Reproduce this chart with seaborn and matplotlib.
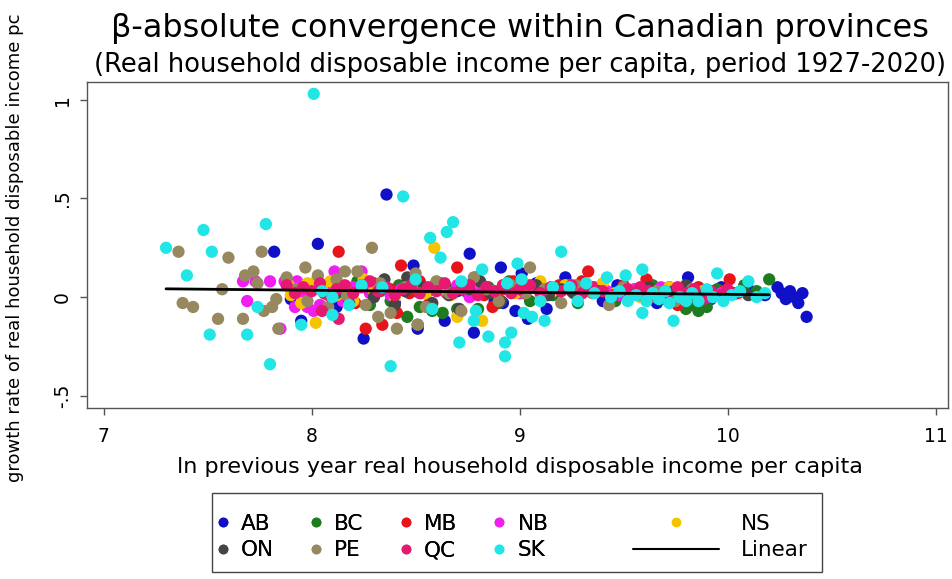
import pandas as pd
import matplotlib
matplotlib.use('Agg')
import matplotlib.pyplot as plt
import seaborn as sns
from matplotlib.lines import Line2D
from matplotlib.patches import Rectangle

# provinces in drawing / legend order
provinces = ['AB', 'BC', 'MB', 'NB', 'NS', 'ON', 'PE', 'QC', 'SK']
colors = ['#1010c8', '#1e7b1e', '#e8141c', '#f01ef0', '#f5c400',
          '#454545', '#978860', '#e6186f', '#22e5e5']

# (ln previous-year income, growth rate)
ab = [(7.82, 0.23), (7.90, -0.01), (7.95, -0.12), (8.03, 0.27), (8.08, 0.02), (8.12, -0.05),
      (8.18, 0.04), (8.25, -0.21), (8.30, 0.03), (8.36, 0.52), (8.40, -0.03), (8.44, 0.05),
      (8.49, 0.16), (8.51, -0.16), (8.55, 0.02), (8.60, 0.06), (8.64, -0.12), (8.70, 0.03),
      (8.76, 0.22), (8.78, -0.18), (8.83, 0.05), (8.88, -0.02), (8.91, 0.15), (8.92, -0.03),
      (8.95, 0.04), (8.98, -0.07), (9.01, 0.12), (9.04, -0.11), (9.08, 0.07), (9.13, -0.06),
      (9.18, 0.03), (9.22, 0.10), (9.28, 0.02), (9.34, 0.05), (9.40, -0.02), (9.47, 0.06),
      (9.53, 0.01), (9.60, 0.04), (9.66, -0.03), (9.72, 0.05), (9.78, 0.02), (9.81, 0.10),
      (9.86, 0.03), (9.92, -0.01), (9.97, 0.05), (10.03, 0.02), (10.10, 0.04), (10.18, 0.01),
      (10.24, 0.05), (10.26, 0.02), (10.28, -0.01), (10.30, 0.03), (10.32, 0.00), (10.34, -0.03),
      (10.36, 0.02), (10.38, -0.10)]
bc = [(8.10, 0.05), (8.16, -0.02), (8.22, 0.08), (8.28, -0.04), (8.33, 0.03), (8.38, -0.02),
      (8.42, 0.06), (8.46, -0.10), (8.50, 0.03), (8.52, -0.05), (8.55, 0.02), (8.58, -0.07),
      (8.63, -0.08), (8.66, 0.04), (8.70, -0.06), (8.74, 0.03), (8.80, -0.06), (8.85, 0.05),
      (8.90, -0.03), (8.95, 0.08), (9.00, 0.02), (9.05, -0.02), (9.10, 0.04), (9.16, 0.01),
      (9.22, 0.06), (9.28, -0.03), (9.34, 0.03), (9.40, 0.05), (9.46, -0.02), (9.52, 0.03),
      (9.58, 0.01), (9.64, 0.06), (9.70, -0.01), (9.76, 0.03), (9.80, -0.06), (9.83, -0.04),
      (9.86, -0.07), (9.90, -0.05), (9.95, 0.04), (10.02, 0.02), (10.08, 0.06), (10.14, 0.03),
      (10.20, 0.09)]
mb = [(8.00, 0.06), (8.06, 0.02), (8.13, 0.23), (8.17, 0.05), (8.21, -0.03), (8.26, -0.16),
      (8.30, 0.07), (8.34, -0.14), (8.38, 0.04), (8.41, -0.08), (8.43, 0.16), (8.47, 0.02),
      (8.52, 0.08), (8.56, -0.04), (8.61, 0.05), (8.65, 0.02), (8.70, 0.15), (8.74, 0.06),
      (8.79, 0.10), (8.83, 0.01), (8.87, -0.05), (8.92, 0.04), (8.97, 0.08), (9.02, 0.02),
      (9.08, 0.05), (9.13, 0.01), (9.19, 0.06), (9.25, 0.03), (9.30, 0.08), (9.33, 0.13),
      (9.38, 0.04), (9.44, 0.02), (9.50, 0.06), (9.56, 0.03), (9.61, 0.09), (9.68, 0.04),
      (9.74, 0.00), (9.76, -0.04), (9.86, 0.05), (9.92, 0.01), (9.98, 0.03), (10.01, 0.09),
      (10.05, 0.02)]
nb = [(7.67, 0.08), (7.69, -0.02), (7.73, 0.08), (7.80, 0.08), (7.85, -0.16), (7.87, 0.08),
      (7.92, -0.05), (7.93, 0.08), (7.96, 0.01), (7.98, -0.05), (8.01, -0.07), (8.04, -0.04),
      (8.08, 0.03), (8.11, 0.13), (8.15, -0.02), (8.20, 0.05), (8.24, 0.13), (8.28, 0.02),
      (8.33, 0.06), (8.38, 0.01), (8.43, 0.04), (8.48, 0.07), (8.53, 0.02), (8.58, 0.05),
      (8.64, 0.03), (8.70, 0.06), (8.76, 0.00), (8.82, 0.05), (8.88, 0.03), (8.94, 0.07),
      (9.00, 0.02), (9.06, 0.05), (9.12, 0.01), (9.18, 0.04), (9.24, 0.06), (9.30, 0.02),
      (9.36, 0.05), (9.42, 0.03), (9.48, 0.01), (9.55, 0.04), (9.62, 0.02), (9.68, 0.05),
      (9.75, 0.01), (9.82, 0.03), (9.90, 0.00), (9.97, 0.02)]
ns = [(7.89, 0.06), (7.90, 0.01), (7.95, -0.03), (7.98, 0.07), (8.02, -0.13), (8.02, 0.08),
      (8.05, 0.04), (8.09, 0.08), (8.12, 0.01), (8.16, 0.05), (8.20, -0.02), (8.25, 0.09),
      (8.30, 0.03), (8.35, 0.06), (8.40, 0.00), (8.45, 0.04), (8.50, 0.07), (8.55, 0.02),
      (8.59, 0.25), (8.63, 0.04), (8.67, 0.01), (8.70, -0.10), (8.75, 0.05), (8.82, -0.12),
      (8.86, 0.03), (8.92, 0.06), (8.98, 0.02), (9.04, 0.05), (9.10, 0.08), (9.16, 0.03),
      (9.22, 0.06), (9.28, 0.02), (9.34, 0.04), (9.40, 0.07), (9.46, 0.02), (9.52, 0.04),
      (9.58, 0.00), (9.65, 0.03), (9.72, 0.05), (9.80, 0.02), (9.88, 0.03), (9.95, 0.01)]
on = [(8.12, 0.02), (8.18, -0.03), (8.24, 0.06), (8.30, 0.00), (8.35, 0.09), (8.40, -0.04),
      (8.45, 0.03), (8.46, 0.10), (8.51, -0.14), (8.54, 0.05), (8.58, -0.03), (8.62, 0.07),
      (8.66, 0.01), (8.71, -0.06), (8.76, 0.04), (8.81, 0.08), (8.86, 0.02), (8.91, -0.02),
      (8.96, 0.05), (9.02, 0.03), (9.08, 0.06), (9.14, 0.01), (9.20, 0.04), (9.26, 0.02),
      (9.32, 0.05), (9.38, 0.03), (9.44, 0.00), (9.50, 0.04), (9.56, 0.02), (9.62, 0.05),
      (9.68, 0.01), (9.74, 0.03), (9.80, 0.06), (9.86, 0.01), (9.92, 0.03), (9.98, 0.00),
      (10.04, 0.02), (10.10, 0.01)]
pe = [(7.36, 0.23), (7.38, -0.03), (7.43, -0.05), (7.55, -0.11), (7.57, 0.04), (7.60, 0.20),
      (7.67, -0.11), (7.68, 0.11), (7.72, 0.13), (7.74, 0.07), (7.76, 0.23), (7.77, -0.07),
      (7.81, -0.05), (7.83, -0.01), (7.84, -0.16), (7.88, 0.10), (7.93, 0.04), (7.97, 0.15),
      (7.98, -0.02), (8.03, 0.11), (8.08, -0.05), (8.12, 0.09), (8.16, 0.13), (8.17, 0.01),
      (8.22, 0.13), (8.26, -0.04), (8.29, 0.25), (8.32, -0.10), (8.33, 0.07), (8.38, -0.08),
      (8.41, -0.16), (8.45, 0.05), (8.50, 0.12), (8.51, -0.14), (8.55, -0.05), (8.60, 0.08),
      (8.66, 0.02), (8.72, -0.07), (8.78, 0.10), (8.84, 0.04), (8.90, -0.02), (8.96, 0.06),
      (9.03, 0.02), (9.05, 0.15), (9.12, 0.04), (9.20, -0.03), (9.27, 0.06), (9.35, 0.02),
      (9.43, -0.04), (9.50, 0.05), (9.58, 0.01), (9.66, 0.03), (9.75, -0.02), (9.83, 0.04),
      (9.90, 0.02)]
qc = [(7.88, 0.06), (7.92, 0.02), (7.96, 0.05), (8.00, 0.03), (8.04, 0.07), (8.05, -0.07),
      (8.08, 0.01), (8.12, 0.04), (8.13, -0.11), (8.16, 0.06), (8.20, 0.02), (8.24, 0.05),
      (8.28, 0.08), (8.32, 0.03), (8.36, 0.05), (8.40, 0.01), (8.44, 0.04), (8.48, 0.06),
      (8.52, 0.02), (8.56, 0.05), (8.60, 0.03), (8.64, 0.07), (8.68, 0.02), (8.72, 0.04),
      (8.76, 0.06), (8.80, 0.01), (8.84, 0.05), (8.88, 0.03), (8.92, 0.06), (8.96, 0.02),
      (9.00, 0.04), (9.05, 0.06), (9.10, 0.02), (9.15, 0.05), (9.20, 0.03), (9.25, 0.06),
      (9.30, 0.02), (9.35, 0.05), (9.40, 0.03), (9.45, 0.01), (9.52, 0.04), (9.58, 0.05),
      (9.62, 0.03), (9.64, 0.00), (9.70, 0.03), (9.76, 0.05), (9.80, 0.02), (9.84, 0.04),
      (9.88, -0.01), (9.92, 0.03), (9.96, 0.01), (10.00, 0.04), (10.04, 0.02)]
sk = [(7.30, 0.25), (7.40, 0.11), (7.48, 0.34), (7.51, -0.19), (7.52, 0.23), (7.69, -0.19),
      (7.74, -0.05), (7.78, 0.37), (7.80, -0.34), (7.95, -0.14), (8.01, 1.03), (8.05, 0.03),
      (8.10, 0.00), (8.10, -0.09), (8.18, -0.04), (8.24, 0.06), (8.34, 0.05), (8.38, -0.35),
      (8.44, 0.51), (8.50, 0.09), (8.57, 0.30), (8.58, -0.06), (8.62, 0.20), (8.65, 0.33),
      (8.68, 0.38), (8.71, -0.23), (8.72, 0.08), (8.78, -0.12), (8.79, -0.07), (8.82, 0.14),
      (8.85, -0.20), (8.93, -0.30), (8.93, -0.23), (8.94, 0.07), (8.96, -0.18), (8.99, 0.17),
      (9.01, 0.09), (9.02, -0.08), (9.06, -0.10), (9.10, -0.02), (9.12, -0.12), (9.16, 0.05),
      (9.20, 0.23), (9.24, 0.05), (9.28, -0.02), (9.32, 0.07), (9.36, 0.02), (9.42, 0.10),
      (9.44, 0.00), (9.48, 0.03), (9.51, 0.11), (9.52, -0.02), (9.56, 0.01), (9.59, 0.14),
      (9.59, -0.08), (9.61, -0.02), (9.64, 0.02), (9.67, -0.01), (9.70, 0.03), (9.72, -0.03),
      (9.74, -0.12), (9.77, 0.00), (9.80, -0.02), (9.83, 0.02), (9.86, -0.02), (9.90, 0.04),
      (9.93, 0.00), (9.95, 0.12), (9.98, -0.02), (10.02, 0.01), (10.06, 0.03), (10.10, 0.08),
      (10.14, 0.00), (10.18, 0.02)]

# linear fit line, end points
lin_x = [7.30, 10.20]
lin_y = [0.042, 0.012]

data = [ab, bc, mb, nb, ns, on, pe, qc, sk]
df = pd.concat([pd.DataFrame(pts, columns=['x', 'y']).assign(prov=p)
                for p, pts in zip(provinces, data)], ignore_index=True)

sns.set_style('white')
plt.rcParams['font.family'] = ['DejaVu Sans']
plt.rcParams['text.color'] = 'black'
plt.rcParams['xtick.color'] = 'black'
plt.rcParams['ytick.color'] = 'black'

fig = plt.figure(figsize=(9.53, 5.79), dpi=100)
ax = fig.add_axes([0.0913, 0.2953, 0.9035, 0.5627])

sns.scatterplot(data=df, x='x', y='y', hue='prov', hue_order=provinces,
                palette=colors, s=78, linewidth=0, alpha=1, legend=False, ax=ax)
ax.plot(lin_x, lin_y, color='black', lw=2)

ax.set_xlim(6.92, 11.06)
ax.set_ylim(-0.562, 1.089)
ax.set_xticks([7, 8, 9, 10, 11])
ax.set_yticks([-0.5, 0, 0.5, 1])
ax.set_yticklabels(['-.5', '0', '.5', '1'], rotation=90, va='center')
ax.tick_params(axis='both', direction='out', length=5, width=1, color='#555555',
               labelsize=13.5, labelcolor='black', left=True, bottom=True)
ax.tick_params(axis='x', pad=9)
ax.tick_params(axis='y', pad=6)
ax.set_xlabel('')
ax.set_ylabel('')
for sp in ax.spines.values():
    sp.set_color('#555555')
    sp.set_linewidth(1)

fig.text(0.546, 0.950, '\u03b2-absolute convergence within Canadian provinces',
         ha='center', va='center', fontsize=23)
fig.text(0.546, 0.887, '(Real household disposable income per capita, period 1927-2020)',
         ha='center', va='center', fontsize=18.5)
fig.text(0.546, 0.193, 'ln previous year real household disposable income per capita',
         ha='center', va='center', fontsize=16)
fig.text(0.016, 0.572, 'growth rate of real household disposable income pc',
         ha='center', va='center', rotation=90, fontsize=13)

# legend: four province columns, then NS / Linear column with wider handles
def dot(c):
    return Line2D([], [], marker='o', linestyle='', markersize=6, color=c)

order1 = ['AB', 'ON', 'BC', 'PE', 'MB', 'QC', 'NB', 'SK']
h1 = [dot(colors[provinces.index(p)]) for p in order1]
leg1 = fig.legend(h1, order1, ncol=4, loc='center left', bbox_to_anchor=(0.228, 0.0725),
                  frameon=False, fontsize=15.5, handlelength=0.5, handletextpad=0.6,
                  columnspacing=1.7, labelspacing=0.3, borderpad=0, borderaxespad=0)
h2 = [dot(colors[provinces.index('NS')]), Line2D([], [], color='black', lw=1.5)]
leg2 = fig.legend(h2, ['NS', 'Linear'], ncol=1, loc='center left',
                  bbox_to_anchor=(0.664, 0.0725), frameon=False, fontsize=15.5,
                  handlelength=4.0, handletextpad=1.0, labelspacing=0.3,
                  borderpad=0, borderaxespad=0)
fig.add_artist(leg1)
fig.patches.append(Rectangle((0.2225, 0.0121), 0.640, 0.136, transform=fig.transFigure,
                             fill=False, edgecolor='#444444', lw=1))

fig.savefig('out.png', dpi=100)
